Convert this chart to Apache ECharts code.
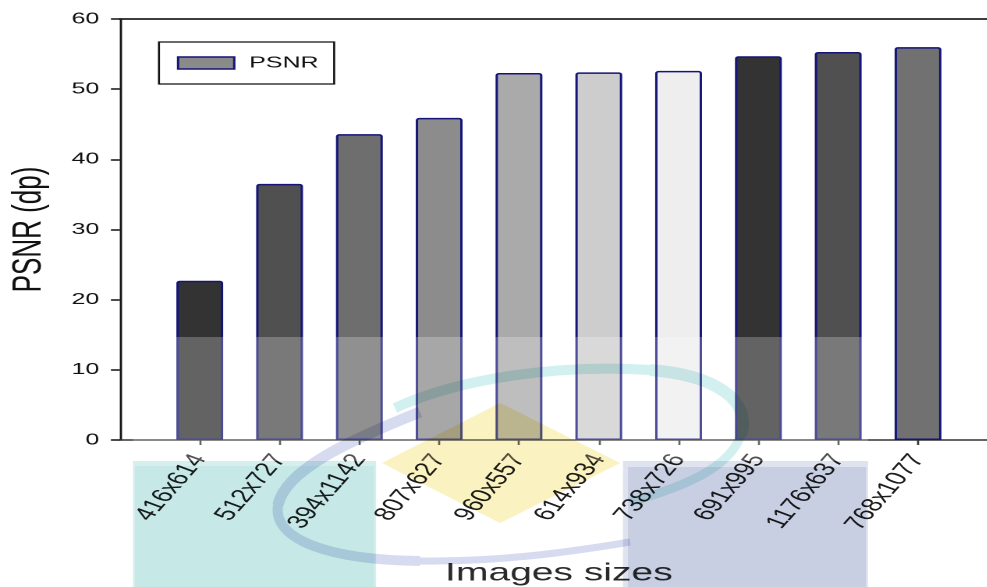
<!DOCTYPE html>
<html>
<head>
<meta charset="utf-8">
<script src="https://cdn.jsdelivr.net/npm/echarts@6/dist/echarts.min.js"></script>
<style>
  html, body { margin: 0; padding: 0; background: #fff; overflow: hidden; }
  /* the plot is laid out narrow and then widened horizontally */
  #chart { width: 633px; height: 587px; transform: scaleX(1.56); transform-origin: 0 0; }
</style>
</head>
<body>
<div id="chart"></div>
<script>
// ---- data ----
const categories = ['416x614', '512x727', '394x1142', '807x627', '960x557',
                    '614x934', '738x726', '691x995', '1176x637', '768x1077'];
const psnrValues = [22.7, 36.5, 43.6, 45.9, 52.3, 52.4, 52.6, 54.7, 55.3, 56.0];
const seriesName = 'PSNR';
const yMin = 0, yMax = 60, yStep = 10;

// ---- styles ----
const S = 1.56;                       // horizontal widening of the page
const barFills = ['#333333', '#505050', '#6e6e6e', '#8c8c8c', '#aaaaaa',
                  '#cdcdcd', '#eeeeee', '#333333', '#505050', '#717171'];
const barEdge = '#14147a';
const FONT = '"Liberation Sans", Arial, sans-serif';

// empty slots at both ends leave room between the frame and the first/last bar
const axisSlots = [''].concat(categories, ['']);
const isInner = (i) => i > 0 && i < axisSlots.length - 1;

const barData = axisSlots.map((c, i) => isInner(i)
  ? { value: psnrValues[i - 1], itemStyle: { color: barFills[i - 1] } }
  : '-');

// cubic curve piece of the logo ring
function stroke(p, color, width) {
  return {
    type: 'bezierCurve', z: 101,
    shape: { x1: p[0], y1: p[1], cpx1: p[2], cpy1: p[3], cpx2: p[4], cpy2: p[5], x2: p[6], y2: p[7] },
    style: { fill: null, stroke: color, lineWidth: width, lineCap: 'butt', blend: 'multiply' }
  };
}
function mrect(x, y, w, h, color) {
  return { type: 'rect', z: 100, shape: { x: x, y: y, width: w, height: h },
           style: { fill: color, blend: 'multiply' } };
}

// logo overlay, drawn in page pixels and squeezed back into the narrow layout
const teal = '#d2f0f0', lilac = '#d6dbf0';
const logo = {
  type: 'group', x: 0, y: 0, scaleX: 1 / S, scaleY: 1,
  children: [
    { type: 'rect', z: 100, shape: { x: 133, y: 337, width: 735, height: 124 },
      style: { fill: 'rgba(255,255,255,0.24)' } },
    mrect(133, 461, 243, 130, '#d6efed'),
    mrect(135, 466, 239, 125, '#ecf9f9'),
    mrect(623, 461, 245, 130, '#dfe3ef'),
    mrect(628, 467, 238, 124, '#e5e9f2'),
    { type: 'polygon', z: 100,
      shape: { points: [[500, 403], [620, 463], [500, 523], [382, 463]] },
      style: { fill: '#faf2c0', blend: 'multiply' } },
    stroke([395, 408, 460, 378, 560, 364, 650, 370], teal, 10),
    stroke([650, 370, 715, 375, 752, 400, 741, 435], teal, 12),
    stroke([741, 435, 730, 466, 690, 485, 630, 502], teal, 9),
    stroke([420, 412, 350, 440, 285, 470, 278, 505], lilac, 11),
    stroke([278, 505, 272, 540, 330, 560, 420, 561], lilac, 10),
    stroke([420, 561, 500, 562, 570, 552, 630, 542], lilac, 7)
  ]
};

const chart = echarts.init(document.getElementById('chart'), null,
  { renderer: 'canvas', devicePixelRatio: 2 });

chart.setOption({
  backgroundColor: '#ffffff',
  animation: false,
  textStyle: { fontFamily: FONT },
  grid: { left: 76.9, top: 19, width: 562.7, height: 421, containLabel: false, outerBoundsMode: 'none' },
  legend: {
    left: 101.9, top: 42,
    padding: [13, 10, 13, 11.5],
    borderColor: '#111', borderWidth: 1.3,
    itemWidth: 36, itemHeight: 12,
    textStyle: { fontSize: 16, color: '#111', fontFamily: FONT, padding: [0, 0, 0, 4.6] },
    data: [{ name: seriesName, icon: 'rect',
             itemStyle: { color: '#8a8a8a', borderColor: barEdge, borderWidth: 1.5 } }]
  },
  xAxis: [
    {
      type: 'category', data: axisSlots, boundaryGap: false, position: 'bottom',
      axisLine: { show: true, onZero: false, lineStyle: { color: '#333', width: 1.5 } },
      axisTick: { show: true, length: 5, interval: isInner, lineStyle: { color: '#333', width: 1.3 } },
      axisLabel: { interval: isInner, rotate: 60, margin: 16, fontSize: 19, color: '#1a1a1a', fontFamily: FONT },
      splitLine: { show: false },
      name: 'Images sizes', nameLocation: 'middle', nameGap: 121,
      nameTextStyle: { fontSize: 25, color: '#2a2a2a', fontFamily: FONT }
    },
    {
      type: 'value', position: 'top', min: 0, max: 1,
      axisLine: { show: true, onZero: false, lineStyle: { color: '#222', width: 1.8 } },
      axisTick: { show: false }, axisLabel: { show: false }, splitLine: { show: false }
    }
  ],
  yAxis: {
    type: 'value', min: yMin, max: yMax, interval: yStep,
    axisLine: { show: true, onZero: false, lineStyle: { color: '#111', width: 1.4 } },
    axisTick: { show: true, length: 5.8, lineStyle: { color: '#111', width: 1.5 } },
    axisLabel: { margin: 13.2, fontSize: 16, color: '#111', fontFamily: FONT },
    splitLine: { show: false },
    name: 'PSNR (dp)', nameLocation: 'middle', nameRotate: 90, nameGap: 45,
    nameTextStyle: { fontSize: 26, color: '#111', fontFamily: FONT }
  },
  series: [{
    name: seriesName, type: 'bar', xAxisIndex: 0,
    barWidth: 30,
    color: '#8a8a8a',
    itemStyle: { borderColor: barEdge, borderWidth: 1.5, borderRadius: [1.5, 1.5, 0, 0] },
    data: barData
  }],
  graphic: [logo]
});
</script>
</body>
</html>
